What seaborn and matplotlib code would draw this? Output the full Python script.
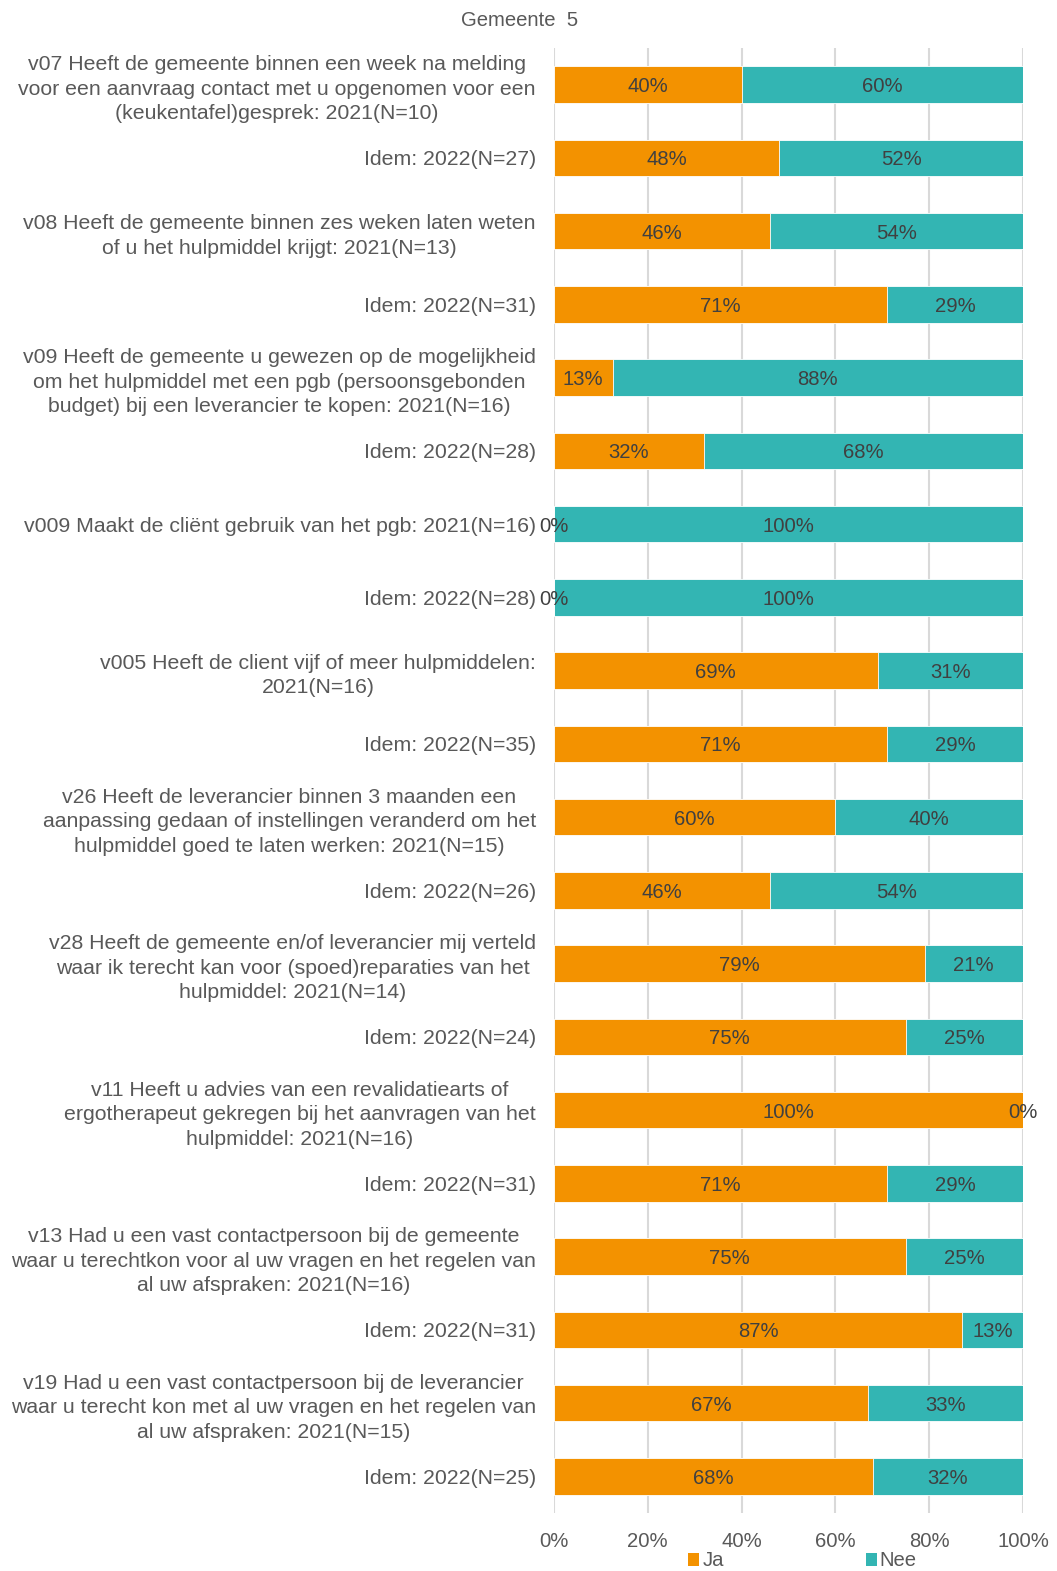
import matplotlib
matplotlib.use("Agg")
import matplotlib.pyplot as plt
from matplotlib.patches import Patch
import seaborn as sns
import numpy as np

labels = [
    "v07 Heeft de gemeente binnen een week na melding\nvoor een aanvraag contact met u opgenomen voor een\n(keukentafel)gesprek: 2021(N=10)",
    "Idem: 2022(N=27)",
    "v08 Heeft de gemeente binnen zes weken laten weten\nof u het hulpmiddel krijgt: 2021(N=13)",
    "Idem: 2022(N=31)",
    "v09 Heeft de gemeente u gewezen op de mogelijkheid\nom het hulpmiddel met een pgb (persoonsgebonden\nbudget) bij een leverancier te kopen: 2021(N=16)",
    "Idem: 2022(N=28)",
    "v009 Maakt de cliënt gebruik van het pgb: 2021(N=16)",
    "Idem: 2022(N=28)",
    "v005 Heeft de client vijf of meer hulpmiddelen:\n2021(N=16)",
    "Idem: 2022(N=35)",
    "v26 Heeft de leverancier binnen 3 maanden een\naanpassing gedaan of instellingen veranderd om het\nhulpmiddel goed te laten werken: 2021(N=15)",
    "Idem: 2022(N=26)",
    "v28 Heeft de gemeente en/of leverancier mij verteld\nwaar ik terecht kan voor (spoed)reparaties van het\nhulpmiddel: 2021(N=14)",
    "Idem: 2022(N=24)",
    "v11 Heeft u advies van een revalidatiearts of\nergotherapeut gekregen bij het aanvragen van het\nhulpmiddel: 2021(N=16)",
    "Idem: 2022(N=31)",
    "v13 Had u een vast contactpersoon bij de gemeente\nwaar u terechtkon voor al uw vragen en het regelen van\nal uw afspraken: 2021(N=16)",
    "Idem: 2022(N=31)",
    "v19 Had u een vast contactpersoon bij de leverancier\nwaar u terecht kon met al uw vragen en het regelen van\nal uw afspraken: 2021(N=15)",
    "Idem: 2022(N=25)",
]
ja = [40, 48, 46, 71, 12.5, 32, 0, 0, 69, 71, 60, 46, 79, 75, 100, 71, 75, 87, 67, 68]
nee = [60, 52, 54, 29, 87.5, 68, 100, 100, 31, 29, 40, 54, 21, 25, 0, 29, 25, 13, 33, 32]
series_names = ["Ja", "Nee"]
xticks = [0, 20, 40, 60, 80, 100]
title = "Gemeente  5"

ORANGE = "#F39200"
TEAL = "#33B5B3"
TXT = "#595959"
VAL = "#404040"

sns.set_theme(style="white")
plt.rcParams["font.family"] = ["Liberation Sans", "DejaVu Sans"]
FS = 15.3
FSV = 14.6

fig = plt.figure(figsize=(10.57, 15.71), dpi=100)
ax = fig.add_axes([554 / 1057, 1 - 1513 / 1571, 469 / 1057, (1513 - 48) / 1571])

pos = list(range(len(labels)))
tot = [a + b for a, b in zip(ja, nee)]

sns.barplot(x=tot, y=pos, orient="h", color=TEAL, saturation=1, width=0.5,
            edgecolor="white", linewidth=0.6, ax=ax, zorder=2)
sns.barplot(x=ja, y=pos, orient="h", color=ORANGE, saturation=1, width=0.5,
            edgecolor="white", linewidth=0.6, ax=ax, zorder=3)

for i in pos:
    ax.text(ja[i] / 2, i, f"{int(ja[i] + 0.5)}%", ha="center", va="center_baseline",
            fontsize=FSV, color=VAL, zorder=5)
    ax.text(ja[i] + nee[i] / 2, i, f"{int(nee[i] + 0.5)}%", ha="center",
            va="center_baseline", fontsize=FSV, color=VAL, zorder=5)

ax.set_xlim(0, 100)
ax.set_ylim(len(labels) - 0.5, -0.5)
ax.set_xticks(xticks)
ax.set_xticklabels([f"{t}%" for t in xticks], fontsize=FSV, color=TXT)
ax.set_yticks(pos)
ax.set_yticklabels(labels, fontsize=FS, color=TXT, multialignment="center",
                   linespacing=1.36)
ax.tick_params(axis="y", length=0, pad=13)
ax.tick_params(axis="x", length=0, pad=14)
ax.set_xlabel("")
ax.set_ylabel("")
for s in ax.spines.values():
    s.set_visible(False)
ax.xaxis.grid(True, color="#D9D9D9", linewidth=1.5, zorder=0)
ax.set_axisbelow(True)

fig.text(520 / 1057, 1 - 21 / 1571, title, ha="center", va="center",
         fontsize=FSV, color=TXT)

handles = [Patch(facecolor=ORANGE, edgecolor="none"), Patch(facecolor=TEAL, edgecolor="none")]
leg = fig.legend(handles, series_names, loc="center left",
                 bbox_to_anchor=(688 / 1057, 1 - 1561 / 1571), ncol=2,
                 frameon=False, fontsize=FSV, handlelength=0.55, handleheight=0.6,
                 handletextpad=0.15, columnspacing=7.0, borderpad=0, borderaxespad=0)
for t in leg.get_texts():
    t.set_color(TXT)

fig.savefig("out.png", dpi=100)
